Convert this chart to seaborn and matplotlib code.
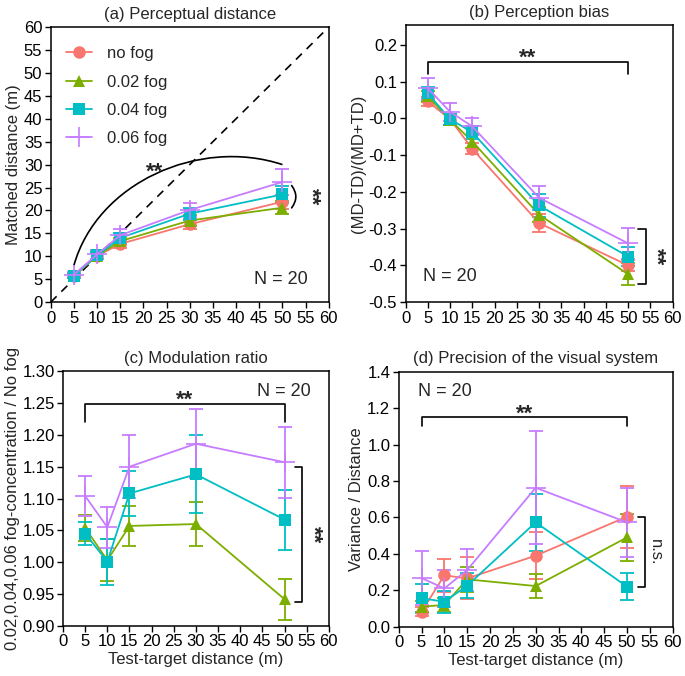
import matplotlib

matplotlib.use("Agg")

import matplotlib.pyplot as plt
import numpy as np
import pandas as pd
import seaborn as sns
from matplotlib.patches import FancyArrowPatch, PathPatch
from matplotlib.path import Path

sns.set_theme(style="ticks")
plt.rcParams["font.family"] = ["Liberation Sans", "DejaVu Sans"]
plt.rcParams["axes.unicode_minus"] = False

distances = [5, 10, 15, 30, 50]
conditions = ["no fog", "0.02 fog", "0.04 fog", "0.06 fog"]
colors = ["#F8766D", "#7CAE00", "#00BFC4", "#C77CFF"]
markers = ["o", "^", "s", "+"]

# (a) matched distance
a_mean = [
    [5.7, 10.1, 12.7, 17.0, 21.9],
    [5.8, 10.1, 13.3, 17.8, 20.6],
    [5.8, 10.2, 14.0, 19.3, 23.5],
    [6.0, 10.4, 14.6, 20.1, 26.2],
]
a_err = [
    [0.4, 0.6, 0.8, 1.1, 1.5],
    [0.4, 0.6, 0.8, 1.2, 1.4],
    [0.5, 0.7, 1.0, 1.3, 1.8],
    [0.5, 0.9, 1.4, 1.5, 2.8],
]

# (b) perception bias
b_mean = [
    [0.046, -0.002, -0.083, -0.285, -0.400],
    [0.060, -0.004, -0.063, -0.262, -0.424],
    [0.068, -0.002, -0.038, -0.237, -0.376],
    [0.082, 0.018, -0.022, -0.216, -0.340],
]
b_err = [
    [0.012, 0.015, 0.015, 0.025, 0.015],
    [0.015, 0.015, 0.018, 0.020, 0.030],
    [0.018, 0.015, 0.018, 0.030, 0.025],
    [0.028, 0.025, 0.022, 0.032, 0.042],
]

# (c) modulation ratio (no fog excluded)
c_mean = [
    [1.054, 1.003, 1.057, 1.060, 0.942],
    [1.045, 1.001, 1.108, 1.138, 1.067],
    [1.104, 1.055, 1.150, 1.186, 1.157],
]
c_err = [
    [0.020, 0.033, 0.031, 0.034, 0.032],
    [0.018, 0.036, 0.036, 0.061, 0.047],
    [0.031, 0.032, 0.049, 0.054, 0.056],
]

# (d) precision
d_mean = [
    [0.082, 0.282, 0.265, 0.390, 0.604],
    [0.110, 0.119, 0.260, 0.223, 0.490],
    [0.156, 0.137, 0.225, 0.573, 0.220],
    [0.267, 0.210, 0.311, 0.763, 0.573],
]
d_err = [
    [0.025, 0.090, 0.115, 0.130, 0.170],
    [0.030, 0.040, 0.070, 0.065, 0.130],
    [0.080, 0.060, 0.070, 0.155, 0.075],
    [0.150, 0.100, 0.115, 0.310, 0.190],
]

FS = 12


def marker_kw(i):
    if markers[i] == "+":
        return dict(marker="+", markersize=14, markeredgewidth=1.2, markeredgecolor=colors[i])
    return dict(marker=markers[i], markersize=9, markeredgewidth=0)


def draw_series(ax, means, errs, idx):
    rows = []
    for k, i in enumerate(idx):
        for x, m, e in zip(distances, means[k], errs[k]):
            rows.append({"x": x, "y": m, "err": e, "cond": conditions[i]})
    df = pd.DataFrame(rows)
    for i in idx:
        sub = df[df["cond"] == conditions[i]]
        ax.errorbar(sub["x"], sub["y"], yerr=sub["err"], fmt="none",
                    ecolor=colors[i], elinewidth=1.3, capsize=5, capthick=1.3, zorder=2)
    for i in idx:
        sub = df[df["cond"] == conditions[i]]
        sns.lineplot(data=sub, x="x", y="y", ax=ax, color=colors[i], linewidth=1.3,
                     label=conditions[i], legend=False, zorder=3, **marker_kw(i))


def style_axes(ax, ylim, yticks, yfmt):
    ax.set_xlim(0, 60)
    ax.set_xticks(np.arange(0, 61, 5))
    ax.set_ylim(*ylim)
    ax.set_yticks(yticks)
    ax.set_yticklabels([yfmt.format(v) for v in yticks])
    for s in ax.spines.values():
        s.set_visible(True)
        s.set_color("black")
        s.set_linewidth(1.1)
    ax.tick_params(direction="out", length=4, width=1, labelsize=FS, pad=2, colors="black")
    ax.set_xlabel("")
    ax.set_ylabel("")


def bracket_top(ax, y, drop, label_y):
    ax.plot([5, 5, 50, 50], [y - drop, y, y, y - drop], color="black", lw=1.2)
    ax.text(27.5, label_y, "**", ha="center", va="center", fontsize=16, fontweight="bold")


def bracket_right(ax, y0, y1, text="**"):
    ax.plot([52.3, 54, 54, 52.3], [y1, y1, y0, y0], color="black", lw=1.2)
    stars = text == "**"
    ax.text(56.3, (y0 + y1) / 2, text, ha="center", va="center", rotation=-90,
            fontsize=16 if stars else 12, fontweight="bold" if stars else "normal")


fig = plt.figure(figsize=(6.85, 6.76), dpi=100)
ax_a = fig.add_axes([0.074, 0.553, 0.406, 0.407])
ax_b = fig.add_axes([0.592, 0.553, 0.390, 0.410])
ax_c = fig.add_axes([0.092, 0.074, 0.388, 0.377])
ax_d = fig.add_axes([0.582, 0.073, 0.400, 0.377])

# (a)
ax_a.plot([0, 60], [0, 60], color="black", lw=1.2, ls=(0, (5, 4)), zorder=1)
draw_series(ax_a, a_mean, a_err, [0, 1, 2, 3])
style_axes(ax_a, (0, 60), np.arange(0, 61, 5), "{:.0f}")
ax_a.set_title("(a) Perceptual distance", fontsize=FS, pad=6)
ax_a.set_ylabel("Matched distance (m)", fontsize=FS, labelpad=2)
curve = Path([(5, 8), (10, 26), (32, 36), (50, 30)],
             [Path.MOVETO, Path.CURVE4, Path.CURVE4, Path.CURVE4])
ax_a.add_patch(PathPatch(curve, fc="none", ec="black", lw=1.2))
ax_a.text(22.5, 28.3, "**", ha="center", va="center", fontsize=16, fontweight="bold")
ax_a.add_patch(FancyArrowPatch((51.6, 25.9), (51.6, 20.1), arrowstyle="-",
                               connectionstyle="arc3,rad=-0.45", color="black", lw=1.2))
ax_a.text(56.2, 23.0, "**", ha="center", va="center", rotation=-90, fontsize=16, fontweight="bold")
ax_a.text(55.5, 5, "N = 20", ha="right", va="center", fontsize=13)
handles = [plt.Line2D([], [], color=colors[i], lw=1.3, **marker_kw(i)) for i in range(4)]
ax_a.legend(handles, conditions, loc="upper left", frameon=False, fontsize=FS,
            handlelength=1.6, labelspacing=0.8, handletextpad=0.9,
            bbox_to_anchor=(0.0, 0.985))

# (b)
draw_series(ax_b, b_mean, b_err, [0, 1, 2, 3])
style_axes(ax_b, (-0.5, 0.254), np.round(np.arange(-0.5, 0.21, 0.1), 1), "{:.1f}")
ax_b.set_title("(b) Perception bias", fontsize=FS, pad=6)
ax_b.set_ylabel("(MD-TD)/(MD+TD)", fontsize=FS, labelpad=2)
bracket_top(ax_b, 0.154, 0.034, 0.163)
bracket_right(ax_b, -0.451, -0.300)
ax_b.text(4, -0.43, "N = 20", ha="left", va="center", fontsize=13)

# (c)
draw_series(ax_c, c_mean, c_err, [1, 2, 3])
style_axes(ax_c, (0.9, 1.3), np.round(np.arange(0.9, 1.31, 0.05), 2), "{:.2f}")
ax_c.set_title("(c) Modulation ratio", fontsize=FS, pad=6)
ax_c.set_ylabel("0.02,0.04,0.06 fog-concentration / No fog", fontsize=FS, labelpad=2)
ax_c.set_xlabel("Test-target distance (m)", fontsize=FS, labelpad=2)
bracket_top(ax_c, 1.249, 0.029, 1.255)
bracket_right(ax_c, 0.938, 1.150)
ax_c.text(56, 1.268, "N = 20", ha="right", va="center", fontsize=13)

# (d)
draw_series(ax_d, d_mean, d_err, [0, 1, 2, 3])
style_axes(ax_d, (0, 1.4), np.round(np.arange(0, 1.41, 0.2), 1), "{:.1f}")
ax_d.set_title("(d) Precision of the visual system", fontsize=FS, pad=6)
ax_d.set_ylabel("Variance / Distance", fontsize=FS, labelpad=2)
ax_d.set_xlabel("Test-target distance (m)", fontsize=FS, labelpad=2)
bracket_top(ax_d, 1.153, 0.05, 1.165)
bracket_right(ax_d, 0.22, 0.60, text="n.s.")
ax_d.text(4.2, 1.29, "N = 20", ha="left", va="center", fontsize=13)

fig.savefig("out.png", dpi=100)
plt.close(fig)
